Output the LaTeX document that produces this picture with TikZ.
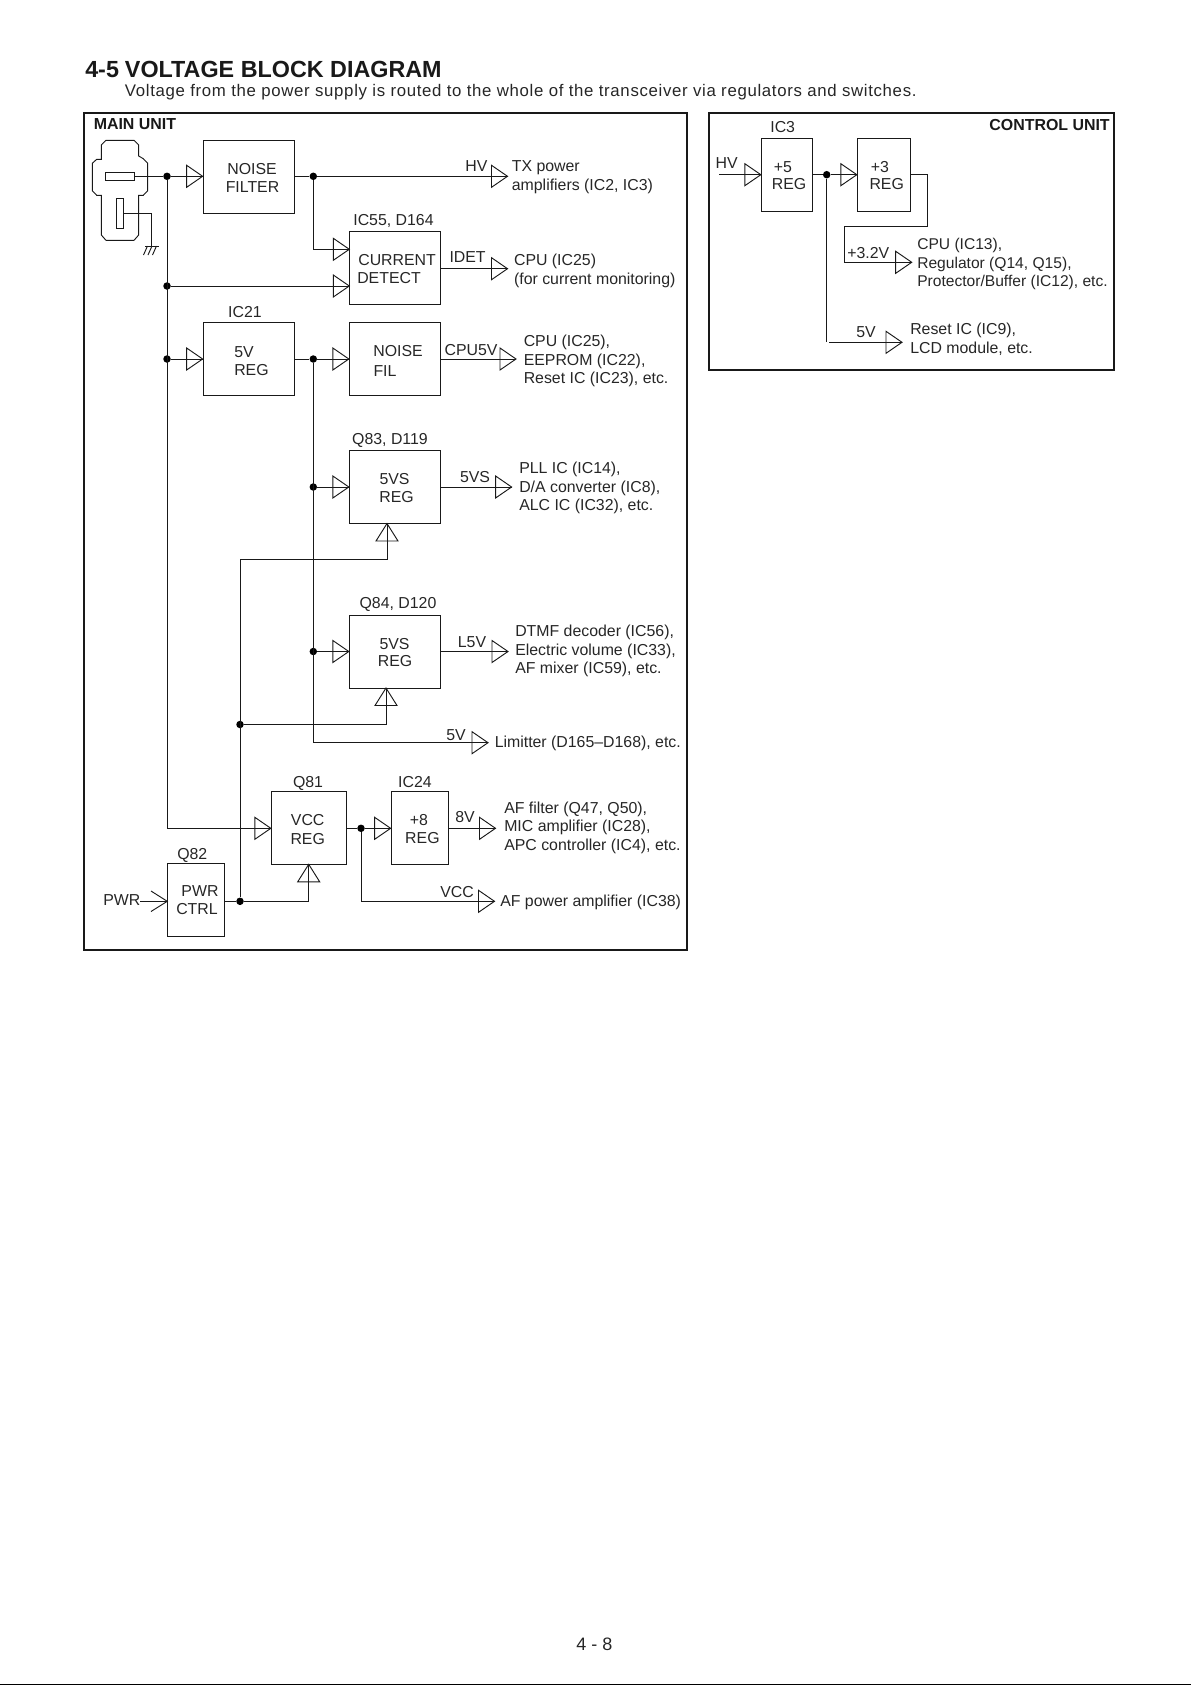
\documentclass[tikz,border=0pt]{standalone}
\usepackage{fontspec}
\setmainfont{Liberation Sans}
\newcommand{\txtsize}{\fontsize{11.9}{14}\selectfont}
\tikzset{
  wire/.style={line width=0.7pt,black!90},
  framebox/.style={draw=black!90,line width=1.5pt,inner sep=0pt},
  blockbox/.style={draw=black!90,line width=0.7pt,inner sep=0pt,minimum height=73*0.75pt},
  wide/.style={blockbox,minimum width=91.4*0.75pt},
  mid/.style={blockbox,minimum width=75.4*0.75pt},
  slim/.style={blockbox,minimum width=57.4*0.75pt},
  ctrl/.style={blockbox,minimum width=51*0.75pt},
  dotj/.style={circle,fill=black,inner sep=0pt,minimum size=7.5*0.75pt},
  lab/.style={font=\txtsize,text=black!85,inner sep=0pt,text height=8.4pt,text depth=0pt},
  lft/.style={font=\txtsize,text=black!85,inner sep=0pt,anchor=west,align=left,yshift=-0.8pt},
  tri/.pic={\draw[wire] (0,0)--(-16,-11)--(-16,11)--cycle;},
  triup/.pic={\draw[wire] (0,0)--(-11,17.5)--(11,17.5)--cycle;},
}
\begin{document}
\begin{tikzpicture}[x=0.75pt,y=-0.75pt]
\useasboundingbox (0,0) rectangle (1191,1685);
% title
\node[anchor=west,inner sep=0pt,font=\fontsize{17.5}{20}\selectfont\bfseries,text=black!90] (t45) at (85,69.5) {4-5};
\node[anchor=west,inner sep=0pt,font=\fontsize{17.5}{20}\selectfont\bfseries,text=black!90] (ttl) at (124.7,69.5) {VOLTAGE BLOCK DIAGRAM};
\node[anchor=west,inner sep=0pt,font=\fontsize{12.6}{14}\selectfont\addfontfeature{LetterSpace=4},text=black!85] (sub) at (124.7,92.5) {Voltage from the power supply is routed to the whole of the transceiver via regulators and switches.};
% frames
\node[framebox,minimum width=603*0.75pt,minimum height=837*0.75pt] (mainf) at (385.5,531.5) {};
\node[framebox,minimum width=405*0.75pt,minimum height=257*0.75pt] (ctrlf) at (911.5,241.5) {};
\node[anchor=west,inner sep=0pt,font=\fontsize{11.95}{13}\selectfont\bfseries,text=black!90] (mu) at (93.5,124) {MAIN UNIT};
\node[anchor=east,inner sep=0pt,font=\fontsize{11.95}{13}\selectfont\bfseries,text=black!90] (cu) at (1110,125) {CONTROL UNIT};
% blocks main
\node[wide] (nf) at (248.8,176.8) {};
\node[wide] (cd) at (395,267.7) {};
\node[wide] (rega) at (248.8,359) {};
\node[wide] (nfil) at (395,359) {};
\node[wide] (qa) at (395,487) {};
\node[wide] (qb) at (395,651.5) {};
\node[mid] (qc) at (309,827.8) {};
\node[slim] (ic) at (419.8,827.8) {};
\node[slim] (qd) at (196,899.8) {};
% blocks control
\node[ctrl] (ca) at (786.8,174.8) {};
\node[ctrl,minimum width=53*0.75pt] (cb) at (883.8,174.8) {};
% block texts
\node[lab] (l1) at (252,168.5) {NOISE};
\node[lab] (l2) at (252.5,186.5) {FILTER};
\node[lab,anchor=center] (l3) at (393.5,219.5) {IC55, D164};
\node[lft] (l4) at (357,268) {\kern0.8pt CURRENT\\DETECT};
\node[lab] (l5) at (245,311.5) {IC21};
\node[lft] (l6) at (234,360) {5V\\REG};
\node[lab] (l7) at (398,350.5) {NOISE};
\node[lab] (l8) at (385,370.5) {FIL};
\node[lab] (l9) at (390,439) {Q83, D119};
\node[lab] (l10) at (394.5,478.5) {5VS};
\node[lab] (l11) at (396.6,497) {REG};
\node[lab] (l12) at (398,602.5) {Q84, D120};
\node[lab] (l13) at (394.5,643.5) {5VS};
\node[lab] (l14) at (395,660.5) {REG};
\node[lab] (l15) at (308,781.7) {Q81};
\node[lab] (l16) at (307.7,819.5) {VCC};
\node[lab] (l17) at (307.7,838.5) {REG};
\node[lab] (l18) at (415,781.5) {IC24};
\node[lab] (l19) at (419,819.5) {+8};
\node[lab] (l20) at (422.4,837.5) {REG};
\node[lab] (l21) at (192.3,854) {Q82};
\node[lab] (l22) at (200,890.7) {PWR};
\node[lab] (l23) at (197,909) {CTRL};
\node[lab,anchor=west] (pwr) at (103,900) {PWR};
\node[lab] (c1) at (782.7,126.7) {IC3};
\node[lab] (c2) at (783,167.3) {+5};
\node[lab] (c3) at (789,184.3) {REG};
\node[lab] (c4) at (880,167.3) {+3};
\node[lab] (c5) at (886.7,184.3) {REG};
\node[lab] (c6) at (726.7,163.3) {HV};
% signal labels
\node[lab] (s1) at (476.5,165.5) {HV};
\node[lab] (s2) at (467.6,257) {IDET};
\node[lab] (s3) at (471,349.5) {CPU5V};
\node[lab] (s4) at (475,477) {5VS};
\node[lab] (s5) at (472,642) {L5V};
\node[lab] (s6) at (456,735) {5V};
\node[lab] (s7) at (465,817) {8V};
\node[lab] (s8) at (457,892) {VCC};
\node[lab] (s9) at (868.3,253.3) {+3.2V};
\node[lab] (s10) at (866,332.3) {5V};
% destinations
\node[lft] (d1) at (511.6,176) {TX power\\amplifiers (IC2, IC3)};
\node[lft] (d2) at (513.8,269.5) {CPU (IC25)\\(for current monitoring)};
\node[lft] (d3) at (523.5,360) {CPU (IC25),\\EEPROM (IC22),\\Reset IC (IC23), etc.};
\node[lft] (d4) at (519,487) {PLL IC (IC14),\\D/A converter (IC8),\\ALC IC (IC32), etc.};
\node[lft] (d5) at (515,650) {DTMF decoder (IC56),\\Electric volume (IC33),\\AF mixer (IC59), etc.};
\node[lft] (d6) at (494.5,742) {Limitter (D165–D168), etc.};
\node[lft] (d7) at (504,826.5) {AF filter (Q47, Q50),\\MIC amplifier (IC28),\\APC controller (IC4), etc.};
\node[lft] (d8) at (500,901) {AF power amplifier (IC38)};
\node[lft,font=\fontsize{11.7}{14}\selectfont] (d9) at (917,263) {CPU (IC13),\\Regulator (Q14, Q15),\\Protector/Buffer (IC12), etc.};
\node[lft] (d10) at (910,338) {Reset IC (IC9),\\LCD module, etc.};
% junctions
\node[dotj] (ja) at (167,176.3) {};
\node[dotj] (jb) at (167,286) {};
\node[dotj] (jc) at (167,359) {};
\node[dotj] (jd) at (313.3,176.3) {};
\node[dotj] (je) at (313.3,359) {};
\node[dotj] (jf) at (313.3,487) {};
\node[dotj] (jg) at (313.3,651.5) {};
\node[dotj] (jh) at (240,724.5) {};
\node[dotj] (ji) at (240,901.3) {};
\node[dotj] (jj) at (361,828.3) {};
\node[dotj] (jk) at (826.7,174.7) {};
% free ends and bends
\coordinate (tHV) at (507.5,176.3);
\coordinate (tID) at (507.5,268.7);
\coordinate (tCP) at (516,359);
\coordinate (tVS) at (511.6,487);
\coordinate (tLV) at (508,651.5);
\coordinate (tFV) at (488,742.7);
\coordinate (t8V) at (495.5,828.3);
\coordinate (tVC) at (494.5,901.3);
\coordinate (tC3) at (911.7,262.3);
\coordinate (tC5) at (902,342.3);
\coordinate (cfree) at (719.3,174.7);
\coordinate (cstub) at (829,342.3);
\coordinate (cend) at (826.7,341.7);
\coordinate (vpow) at (167,828.3);
\coordinate (tcd1) at (349.3,249.3);
\coordinate (tcd2) at (349.3,286);
\coordinate (tqa) at (387,523.5);
\coordinate (tqb) at (386,688);
\coordinate (tqc) at (308.7,864.3);
\coordinate (rpa) at (387,559);
\coordinate (rpb) at (386,724.5);
\coordinate (lft5) at (313.3,742.7);
\coordinate (pwrs) at (140,901.3);
\coordinate (pwrt) at (167.3,901.3);
% triangles
\foreach \p in {tHV,tID,tCP,tVS,tLV,tFV,t8V,tVC,tC3,tC5,tcd1,tcd2} \pic at (\p) {tri};
\pic at (nf.west |- ja) {tri};
\pic at (nfil.west |- je) {tri};
\pic at (rega.west |- jc) {tri};
\pic at (qa.west |- jf) {tri};
\pic at (qb.west |- jg) {tri};
\pic at (qc.west |- vpow) {tri};
\pic at (ic.west |- jj) {tri};
\pic at (ca.west |- jk) {tri};
\pic at (cb.west |- jk) {tri};
\pic at (tqa) {triup};
\pic at (tqb) {triup};
\pic at (tqc) {triup};
% main wires
\draw[wire] (ja) -- (ja -| nf.west);
\draw[wire] (ja) -- (vpow) -- (vpow -| qc.west);
\draw[wire] (nf.east |- jd) -- (jd) -- (tHV);
\draw[wire] (jd) |- (tcd1);
\draw[wire] (jb) -- (tcd2);
\draw[wire] (cd.east |- tID) -- (tID);
\draw[wire] (jc) -- (jc -| rega.west);
\draw[wire] (rega.east |- je) -- (je) -- (je -| nfil.west);
\draw[wire] (nfil.east |- tCP) -- (tCP);
\draw[wire] (je) -- (lft5) -- (tFV);
\draw[wire] (jf) -- (jf -| qa.west);
\draw[wire] (jg) -- (jg -| qb.west);
\draw[wire] (qa.east |- tVS) -- (tVS);
\draw[wire] (qb.east |- tLV) -- (tLV);
\draw[wire] (tqa) -- (rpa) -| (ji);
\draw[wire] (tqb) -- (rpb) -- (jh);
\draw[wire] (qd.east |- ji) -- (ji) -| (tqc);
\draw[wire] (qc.east |- jj) -- (jj) -- (jj -| ic.west);
\draw[wire] (jj) |- (tVC);
\draw[wire] (ic.east |- t8V) -- (t8V);
\draw[wire] (pwrs) -- (pwrt);
\draw[wire] (151,891) -- (pwrt) -- (151,911.5);
% control wires
\draw[wire] (cfree) -- (cfree -| ca.west);
\draw[wire] (ca.east |- jk) -- (jk) -- (jk -| cb.west);
\draw[wire] (cb.east |- jk) -- (927.3,174.7) -- (927.3,226) -- (844.3,226) -- (844.3,262.3) -- (tC3);
\draw[wire] (jk) -- (cend);
\draw[wire] (cstub) -- (tC5);
% connector symbol
\draw[wire] (106,140.3) -- (134,140.3) -- (138.7,145) -- (138.7,156) -- (143.3,158.7) -- (147.7,163.3) -- (147.7,190.7) -- (143.3,195.3) -- (138.7,195.3) -- (138.7,235) -- (134,240.3) -- (106,240.3) -- (101.3,235) -- (101.3,195.3) -- (96.7,195.3) -- (92.3,190.7) -- (92.3,163.3) -- (96.7,159.3) -- (101.3,159.3) -- (101.3,145) -- cycle;
\node[draw=black!90,line width=0.7pt,inner sep=0pt,minimum width=29*0.75pt,minimum height=7.7*0.75pt] (pina) at (119.8,176.8) {};
\node[draw=black!90,line width=0.7pt,inner sep=0pt,minimum width=7*0.75pt,minimum height=30*0.75pt] (pinb) at (119.8,213.3) {};
\draw[wire] (pina.east |- ja) -- (ja);
\coordinate (gnd) at (151.3,246);
\draw[wire] (pinb.east) -| (gnd);
\draw[wire] (145,246) -- (158.7,246);
\draw[wire] (147.5,246) -- (143.5,255);
\draw[wire] (152,246) -- (148,255);
\draw[wire] (156.5,246) -- (152.5,255);
% page number and bottom rule
\node[inner sep=0pt,font=\fontsize{13.5}{15}\selectfont,text=black!85] (pg) at (594.4,1644.6) {4 - 8};
\draw[line width=1.5pt,black] (0,1684.5) -- (1191,1684.5);
\end{tikzpicture}
\end{document}
